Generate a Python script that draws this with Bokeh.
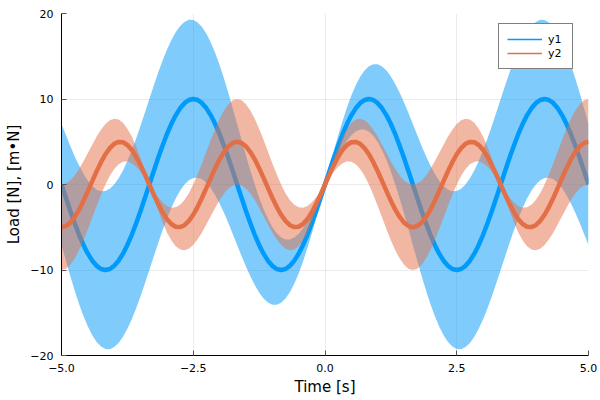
import numpy as np
from bokeh.plotting import figure
from bokeh.models import ColumnDataSource, Range1d, FixedTicker, Legend, LegendItem
from bokeh.embed import file_html
from bokeh.resources import INLINE

# ---- data ----
x = np.linspace(-5.0, 5.0, 121)

y1 = [0, -1.56, -3.09, -4.54, -5.88, -7.07, -8.09, -8.91, -9.51, -9.88,
      -10.0, -9.88, -9.51, -8.91, -8.09, -7.07, -5.88, -4.54, -3.09, -1.56,
      0, 1.56, 3.09, 4.54, 5.88, 7.07, 8.09, 8.91, 9.51, 9.88,
      10.0, 9.88, 9.51, 8.91, 8.09, 7.07, 5.88, 4.54, 3.09, 1.56,
      0, -1.56, -3.09, -4.54, -5.88, -7.07, -8.09, -8.91, -9.51, -9.88,
      -10.0, -9.88, -9.51, -8.91, -8.09, -7.07, -5.88, -4.54, -3.09, -1.56,
      0, 1.56, 3.09, 4.54, 5.88, 7.07, 8.09, 8.91, 9.51, 9.88,
      10.0, 9.88, 9.51, 8.91, 8.09, 7.07, 5.88, 4.54, 3.09, 1.56,
      0, -1.56, -3.09, -4.54, -5.88, -7.07, -8.09, -8.91, -9.51, -9.88,
      -10.0, -9.88, -9.51, -8.91, -8.09, -7.07, -5.88, -4.54, -3.09, -1.56,
      0, 1.56, 3.09, 4.54, 5.88, 7.07, 8.09, 8.91, 9.51, 9.88,
      10.0, 9.88, 9.51, 8.91, 8.09, 7.07, 5.88, 4.54, 3.09, 1.56,
      0]

y2 = [-5.00, -4.86, -4.46, -3.80, -2.94, -1.91, -0.78, 0.39, 1.55, 2.61,
      3.54, 4.26, 4.76, 4.98, 4.94, 4.62, 4.05, 3.25, 2.27, 1.17,
      0, -1.17, -2.27, -3.25, -4.05, -4.62, -4.94, -4.98, -4.76, -4.26,
      -3.54, -2.61, -1.55, -0.39, 0.78, 1.91, 2.94, 3.80, 4.46, 4.86,
      5.00, 4.86, 4.46, 3.80, 2.94, 1.91, 0.78, -0.39, -1.55, -2.61,
      -3.54, -4.26, -4.76, -4.98, -4.94, -4.62, -4.05, -3.25, -2.27, -1.17,
      0, 1.17, 2.27, 3.25, 4.05, 4.62, 4.94, 4.98, 4.76, 4.26,
      3.54, 2.61, 1.55, 0.39, -0.78, -1.91, -2.94, -3.80, -4.46, -4.86,
      -5.00, -4.86, -4.46, -3.80, -2.94, -1.91, -0.78, 0.39, 1.55, 2.61,
      3.54, 4.26, 4.76, 4.98, 4.94, 4.62, 4.05, 3.25, 2.27, 1.17,
      0, -1.17, -2.27, -3.25, -4.05, -4.62, -4.94, -4.98, -4.76, -4.26,
      -3.54, -2.61, -1.55, -0.39, 0.78, 1.91, 2.94, 3.80, 4.46, 4.86,
      5.00]

# ribbon half-widths
r1 = [7.07, 7.34, 7.60, 7.85, 8.09, 8.32, 8.53, 8.73, 8.91, 9.08,
      9.24, 9.38, 9.51, 9.63, 9.72, 9.81, 9.88, 9.93, 9.97, 9.99,
      10.00, 9.99, 9.97, 9.93, 9.88, 9.81, 9.72, 9.63, 9.51, 9.38,
      9.24, 9.08, 8.91, 8.73, 8.53, 8.32, 8.09, 7.85, 7.60, 7.34,
      7.07, 6.79, 6.49, 6.19, 5.88, 5.56, 5.23, 4.89, 4.54, 4.19,
      3.83, 3.46, 3.09, 2.71, 2.33, 1.95, 1.56, 1.18, 0.79, 0.39,
      0, 0.39, 0.79, 1.18, 1.56, 1.95, 2.33, 2.71, 3.09, 3.46,
      3.83, 4.19, 4.54, 4.89, 5.23, 5.56, 5.88, 6.19, 6.49, 6.79,
      7.07, 7.34, 7.60, 7.85, 8.09, 8.32, 8.53, 8.73, 8.91, 9.08,
      9.24, 9.38, 9.51, 9.63, 9.72, 9.81, 9.88, 9.93, 9.97, 9.99,
      10.00, 9.99, 9.97, 9.93, 9.88, 9.81, 9.72, 9.63, 9.51, 9.38,
      9.24, 9.08, 8.91, 8.73, 8.53, 8.32, 8.09, 7.85, 7.60, 7.34,
      7.07]

r2 = [5.00, 4.98, 4.94, 4.86, 4.76, 4.62, 4.46, 4.26, 4.05, 3.80,
      3.54, 3.25, 2.94, 2.61, 2.27, 1.91, 1.55, 1.17, 0.78, 0.39,
      0, 0.39, 0.78, 1.17, 1.55, 1.91, 2.27, 2.61, 2.94, 3.25,
      3.54, 3.80, 4.05, 4.26, 4.46, 4.62, 4.76, 4.86, 4.94, 4.98,
      5.00, 4.98, 4.94, 4.86, 4.76, 4.62, 4.46, 4.26, 4.05, 3.80,
      3.54, 3.25, 2.94, 2.61, 2.27, 1.91, 1.55, 1.17, 0.78, 0.39,
      0, 0.39, 0.78, 1.17, 1.55, 1.91, 2.27, 2.61, 2.94, 3.25,
      3.54, 3.80, 4.05, 4.26, 4.46, 4.62, 4.76, 4.86, 4.94, 4.98,
      5.00, 4.98, 4.94, 4.86, 4.76, 4.62, 4.46, 4.26, 4.05, 3.80,
      3.54, 3.25, 2.94, 2.61, 2.27, 1.91, 1.55, 1.17, 0.78, 0.39,
      0, 0.39, 0.78, 1.17, 1.55, 1.91, 2.27, 2.61, 2.94, 3.25,
      3.54, 3.80, 4.05, 4.26, 4.46, 4.62, 4.76, 4.86, 4.94, 4.98,
      5.00]

series_names = ["y1", "y2"]
colors = ["#009AFA", "#E36F47"]
x_ticks = [-5.0, -2.5, 0.0, 2.5, 5.0]
x_tick_labels = ["\u22125.0", "\u22122.5", "0.0", "2.5", "5.0"]
y_ticks = [-20, -10, 0, 10, 20]
y_tick_labels = ["\u221220", "\u221210", "0", "10", "20"]
x_label = "Time [s]"
y_label = "Load [N], [m\u2022N]"

FONT = "DejaVu Sans"

a1 = np.array(y1); a2 = np.array(y2)
b1 = np.array(r1); b2 = np.array(r2)
src = ColumnDataSource(dict(
    x=x, y1=a1, y2=a2,
    lo1=a1 - b1, hi1=a1 + b1,
    lo2=a2 - b2, hi2=a2 + b2,
))

p = figure(width=600, height=400, output_backend="svg", toolbar_location=None,
           x_range=Range1d(-5, 5), y_range=Range1d(-20, 20),
           min_border_left=61, min_border_right=12, min_border_top=13,
           min_border_bottom=45)
p.outline_line_color = None
p.background_fill_color = "white"
p.border_fill_color = "white"
# an off-screen range used only for the thin legend sample lines
p.extra_y_ranges = {"legend_only": Range1d(1000, 1001)}

p.varea(x="x", y1="lo1", y2="hi1", source=src, fill_color=colors[0], fill_alpha=0.5)
p.line(x="x", y="y1", source=src, line_color=colors[0], line_width=4.5)
p.varea(x="x", y1="lo2", y2="hi2", source=src, fill_color=colors[1], fill_alpha=0.5)
p.line(x="x", y="y2", source=src, line_color=colors[1], line_width=4.5)

# legend proxies with thin lines (drawn on the off-screen range, so invisible in the frame)
g1 = p.line(x="x", y="y1", source=src, y_range_name="legend_only",
            line_color=colors[0], line_width=1.3)
g2 = p.line(x="x", y="y2", source=src, y_range_name="legend_only",
            line_color=colors[1], line_width=1.3)
legend = Legend(items=[LegendItem(label=series_names[0], renderers=[g1]),
                       LegendItem(label=series_names[1], renderers=[g2])],
                location=(437, 286))
legend.label_text_font = FONT
legend.label_text_font_size = "11px"
legend.label_text_color = "black"
legend.glyph_width = 35
legend.glyph_height = 14
legend.label_height = 14
legend.label_width = 16
legend.label_standoff = 6
legend.padding = 8
legend.spacing = 0
legend.margin = 0
legend.border_line_color = "black"
legend.border_line_width = 1
legend.background_fill_color = "white"
legend.background_fill_alpha = 1.0
p.add_layout(legend)

for ax, ticks, labels in ((p.xaxis, x_ticks, x_tick_labels), (p.yaxis, y_ticks, y_tick_labels)):
    ax.ticker = FixedTicker(ticks=ticks)
    ax.major_label_overrides = {t: l for t, l in zip(ticks, labels)}
    ax.axis_line_color = "black"
    ax.axis_line_width = 1
    ax.major_tick_in = 5
    ax.major_tick_out = 0
    ax.major_tick_line_color = "#555555"
    ax.minor_tick_line_color = None
    ax.major_label_text_font = FONT
    ax.major_label_text_font_size = "11px"
    ax.major_label_text_color = "black"
    ax.axis_label_text_font = FONT
    ax.axis_label_text_font_size = "15px"
    ax.axis_label_text_font_style = "normal"
    ax.axis_label_text_color = "black"

p.xaxis.axis_label = x_label
p.yaxis.axis_label = y_label
p.xaxis.major_label_standoff = 8
p.xaxis.axis_label_standoff = 3
p.yaxis.major_label_standoff = 8
p.yaxis.axis_label_standoff = 4

p.grid.grid_line_color = "black"
p.grid.grid_line_alpha = 0.08
p.grid.grid_line_width = 1

open("out.html", "w").write(file_html(p, INLINE))
